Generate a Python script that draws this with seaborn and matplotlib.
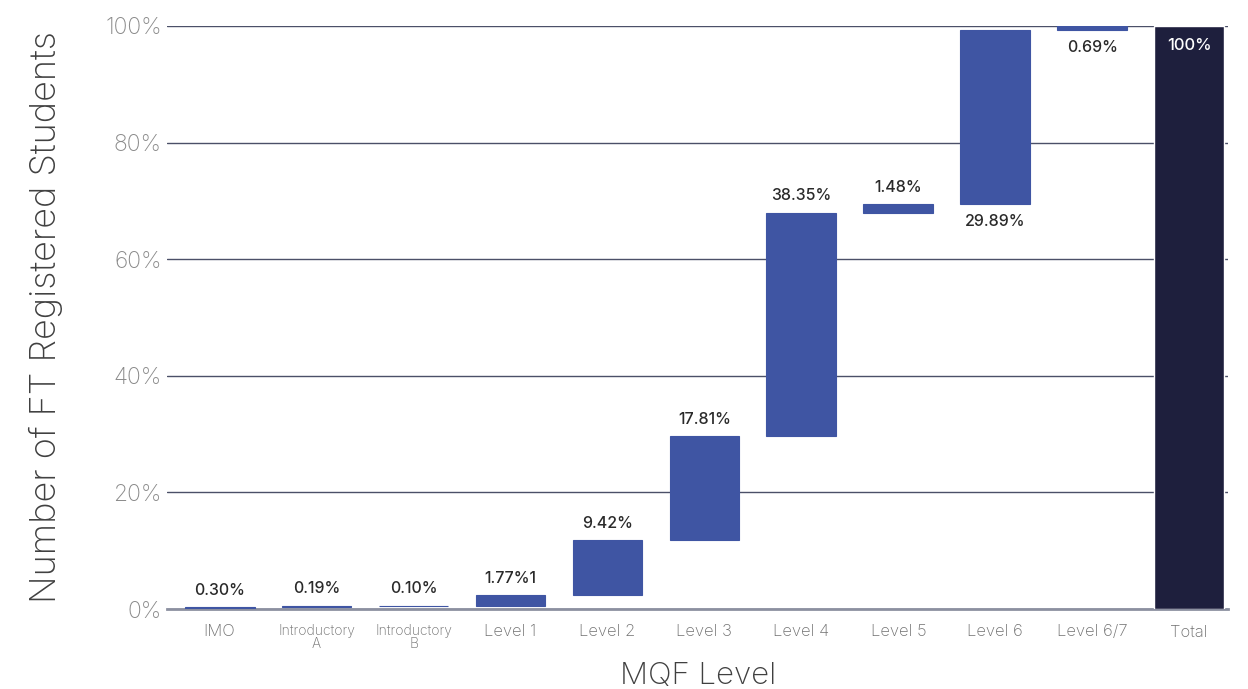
import numpy as np
import pandas as pd
import matplotlib
matplotlib.use("Agg")
import matplotlib.pyplot as plt
import matplotlib.transforms as mtransforms
import seaborn as sns

categories = ["IMO", "Introductory\nA", "Introductory\nB", "Level 1", "Level 2", "Level 3",
              "Level 4", "Level 5", "Level 6", "Level 6/7", "Total"]
increments = [0.30, 0.19, 0.10, 1.77, 9.42, 17.81, 38.35, 1.48, 29.89, 0.69]
total_value = 100.0
value_labels = ["0.30%", "0.19%", "0.10%", "1.77%1", "9.42%", "17.81%", "38.35%",
                "1.48%", "29.89%", "0.69%", "100%"]
label_below = [False, False, False, False, False, False, False, False, True, True]
yticks = [0, 20, 40, 60, 80, 100]

sns.set_theme(style="white")
plt.rcParams["font.family"] = ["Inter", "DejaVu Sans"]

starts = list(np.concatenate([[0.0], np.cumsum(increments)[:-1]])) + [0.0]
heights = increments + [total_value]
df = pd.DataFrame({"cat": categories, "height": heights})

fig = plt.figure(figsize=(12.48, 6.89), dpi=100)
ax = fig.add_axes([0.134, 0.1161, 0.850, 0.8462])

blue = "#3f55a3"
navy = "#1e1f3d"
sns.barplot(data=df, x="cat", y="height", order=categories, color=blue,
            bottom=starts, width=0.72, saturation=1, ax=ax, zorder=3)
patches = ax.patches
patches[-1].set_facecolor(navy)
for p in patches[:-1]:
    p.set_edgecolor(blue)
    p.set_linewidth(0.8)

ax.set_xlim(-0.54, 10.4)
ax.set_ylim(0, 100)
ax.set_yticks(yticks)
ax.set_yticklabels([f"{t}%" for t in yticks], fontsize=16.5, color="#8a8a8a",
                   fontweight="light")
shift = mtransforms.ScaledTranslation(0, 4 / 100, fig.dpi_scale_trans)
for lbl in ax.get_yticklabels():
    lbl.set_transform(lbl.get_transform() + shift)
ax.yaxis.grid(True, color="#4b5068", linewidth=1.0)
ax.set_axisbelow(True)
ax.tick_params(axis="y", length=0, pad=4)
ax.tick_params(axis="x", length=0, pad=11)
for s in ["left", "right", "top"]:
    ax.spines[s].set_visible(False)
ax.spines["bottom"].set_color("#8c90a0")
ax.spines["bottom"].set_linewidth(2)

for lbl in ax.get_xticklabels():
    txt = lbl.get_text()
    lbl.set_color("#707070")
    lbl.set_fontweight("light")
    lbl.set_fontsize(10 if "Introductory" in txt else 12)
    lbl.set_linespacing(0.9)

ax.set_xlabel("MQF Level", fontsize=22.5, color="#404040", fontweight="light", labelpad=8)
ax.set_ylabel("Number of FT Registered Students", fontsize=26, color="#404040",
              fontweight="light", labelpad=30)

for i, p in enumerate(patches[:-1]):
    xc = p.get_x() + p.get_width() / 2
    if label_below[i]:
        ax.annotate(value_labels[i], (xc, p.get_y()), xytext=(0, -7),
                    textcoords="offset points", ha="center", va="top",
                    fontsize=11.5, color="#2a2a2a", fontweight="medium")
    else:
        ax.annotate(value_labels[i], (xc, p.get_y() + p.get_height()), xytext=(0, 7),
                    textcoords="offset points", ha="center", va="bottom",
                    fontsize=11.5, color="#2a2a2a", fontweight="medium")
pt = patches[-1]
ax.annotate(value_labels[-1], (pt.get_x() + pt.get_width() / 2, pt.get_y() + pt.get_height()),
            xytext=(0, -9), textcoords="offset points", ha="center", va="top",
            fontsize=12, color="white", fontweight="medium")

fig.savefig("out.png", dpi=100)
